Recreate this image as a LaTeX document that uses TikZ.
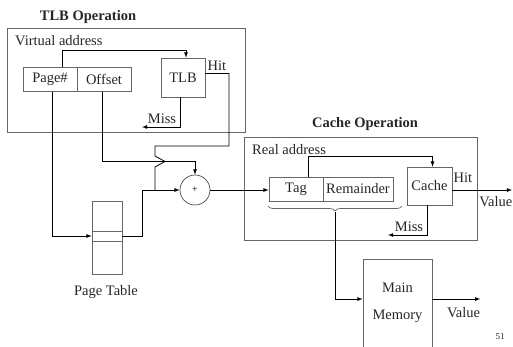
\documentclass[tikz,border=0pt]{standalone}
\usepackage{fontspec}
\setmainfont{Liberation Serif}
\usetikzlibrary{calc,decorations.pathreplacing}
\tikzset{
	txt/.style={font=\fontsize{14.5}{17}\selectfont, text=black!85, inner sep=0pt},
	hdr/.style={txt, font=\fontsize{14.5}{17}\selectfont\bfseries},
	frame/.style={draw=black!60, line width=0.7pt},
	cell/.style={txt, draw=black!60, line width=0.7pt, minimum height=24pt},
	wire/.style={line width=0.8pt},
}

\begin{document}
\begin{tikzpicture}[x=1pt, y=-1pt, >=latex]
			%%%%% START %%%%%
			\useasboundingbox (0,0) rectangle (513,346);
			
			% TLB part
			\node[hdr] (tlbtitle) at (88,17) {TLB Operation};
			\draw[frame] (7,28) rectangle (245,132);
			\node[txt, anchor=west] (vaddr) at (15,41) {Virtual address};
			
			\node[cell, minimum width=54pt] (pagenum) at (50,79.5) {Page\#};
			\node[cell, minimum width=54pt] (offset) at (104,79.5) {Offset};
			\node[cell, minimum width=44pt, minimum height=39pt] (tlb) at (183,77.5) {TLB};
			
			\draw[wire,->] ([xshift=12pt]pagenum.north) -- ++(0,-17) -| ([xshift=3pt]tlb.north);
			
			\node[txt] (tlbhit) at (217,66) {Hit};
			\node[txt] (tlbmiss) at (162,119) {Miss};
			\draw[wire,->] ([xshift=-3pt]tlb.south) |- (142,127);
			
			% page table
			\draw[frame] (92,201) rectangle (122,274);
			\node[cell, minimum width=30pt, minimum height=10pt] (entry) at (107,236) {};
			\node[txt] (ptlabel) at (106,292) {Page Table};
			
			\node[circle, draw=black!70, line width=0.7pt, minimum size=30pt, inner sep=0pt, font=\fontsize{10}{12}\selectfont] (add) at (195,190) {+};
			
			\draw[wire,->] ([xshift=2pt]pagenum.south) |- (entry.west);
			\draw[wire,->] ([xshift=-2pt]offset.south) -- ++(0,70) -| (add.north);
			\draw[wire,->] (entry.east) -- ++(20,0) |- (add.west);
			
			% hit line hops over the offset line
			\draw[wire] ([yshift=4pt]tlb.east) -| (229,146) -| (155,156) -- (165,161.5) -- (155,167) -- (155,190);
			
			% cache part
			\node[hdr] (cachetitle) at (365,124) {Cache Operation};
			\draw[frame] (244,137) rectangle (477,240);
			\node[txt, anchor=west] (raddr) at (252,150) {Real address};
			
			\node[cell, minimum width=54pt] (tag) at (296,189) {Tag};
			\node[cell, minimum width=70pt] (rem) at (358,189) {Remainder};
			\node[cell, minimum width=45pt, minimum height=38pt] (cache) at (429.5,186) {Cache};
			
			\draw[wire,->] (add.east) -- (add.east -| tag.west);
			\draw[wire,->] ([xshift=12pt]tag.north) -- ++(0,-20) -| ([xshift=3pt]cache.north);
			
			\coordinate (valout) at (512,190);
			\draw[wire,->] ([yshift=-4pt]cache.east) -- (valout);
			\node[txt] (cachehit) at (463,178) {Hit};
			\node[txt, anchor=east] (cacheval) at (512.5,202) {Value};
			
			\draw[wire,->] ([xshift=-2.5pt]cache.south) |- (388,235);
			\node[txt] (cachemiss) at (409,227) {Miss};
			
			\draw[draw=black!60, line width=0.7pt, decorate, decoration={brace, mirror, amplitude=5pt}] (268,206) -- (402,206);
			\coordinate (brtip) at (335,212);
			
			% main memory
			\node[cell, minimum width=69pt, minimum height=88pt, align=center] (mm) at (397.5,303) {Main\\[10pt]Memory};
			\draw[wire,->] (brtip) |- ([yshift=4pt]mm.west);
			\draw[wire,->] ([yshift=4pt]mm.east) -- ++(48,0);
			\node[txt] (mmval) at (463.5,313) {Value};
			
			\node[txt, font=\fontsize{9}{11}\selectfont] (slideno) at (500,337) {51};
			
			%%%%% END %%%%%
\end{tikzpicture}
\end{document}
